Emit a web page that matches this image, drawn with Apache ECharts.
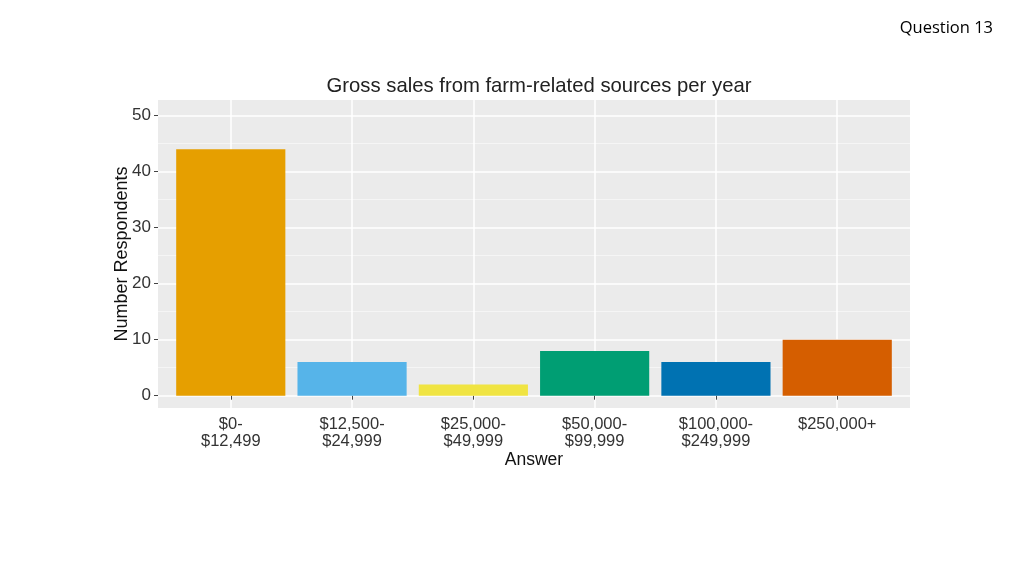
<!DOCTYPE html>
<html>
<head>
<meta charset="utf-8">
<script src="https://cdn.jsdelivr.net/npm/echarts@6/dist/echarts.min.js"></script>
<style>
  html, body { margin: 0; padding: 0; background: #fff; }
  #chart { width: 1024px; height: 576px; }
</style>
</head>
<body>
<div id="chart"></div>
<script>
  // bar categories and counts
  var categories = ['$0-\n$12,499', '$12,500-\n$24,999', '$25,000-\n$49,999', '$50,000-\n$99,999', '$100,000-\n$249,999', '$250,000+'];
  var positions = [1, 2, 3, 4, 5, 6];
  var counts = [44, 6, 2, 8, 6, 10];
  var barColors = ['#E69F00', '#56B4E9', '#F0E442', '#009E73', '#0072B2', '#D55E00'];
  var yMajor = [0, 10, 20, 30, 40, 50];
  var yMinor = [5, 15, 25, 35, 45];

  var chart = echarts.init(document.getElementById('chart'));

  var barData = positions.map(function (p, i) {
    return { value: [p, counts[i]], itemStyle: { color: barColors[i] } };
  });

  chart.setOption({
    animation: false,
    textStyle: { fontFamily: 'Liberation Sans, Arial, sans-serif' },
    graphic: [{
      type: 'text',
      right: 31,
      top: 20,
      style: { text: 'Question 13', font: '16.5px "Open Sans", sans-serif', fill: '#000' }
    }],
    title: {
      text: 'Gross sales from farm-related sources per year',
      left: 534,
      textAlign: 'center',
      top: 71,
      textStyle: { fontSize: 20.3, fontWeight: 'normal', color: '#222', fontFamily: 'Liberation Sans, Arial, sans-serif' }
    },
    grid: {
      left: 158, right: 114, top: 100, bottom: 168,
      show: true, backgroundColor: '#EBEBEB', borderWidth: 0
    },
    xAxis: {
      type: 'value',
      min: 0.4,
      max: 6.6,
      name: 'Answer',
      nameLocation: 'middle',
      nameGap: 43,
      nameMoveOverlap: false,
      nameTextStyle: { fontSize: 17.5, color: '#111' },
      axisLine: { show: false },
      axisTick: { customValues: positions, length: 4, lineStyle: { color: '#444' } },
      axisLabel: {
        customValues: positions,
        formatter: function (v) { return categories[Math.round(v) - 1]; },
        fontSize: 16.5, color: '#333', lineHeight: 17, margin: 8
      },
      splitLine: { lineStyle: { color: '#fff', width: 1.5 } }
    },
    yAxis: [{
      type: 'value',
      min: -2.2,
      max: 52.8,
      name: 'Number Respondents',
      nameLocation: 'middle',
      nameGap: 27,
      nameMoveOverlap: false,
      nameTextStyle: { fontSize: 18, color: '#111' },
      axisLine: { show: false },
      axisTick: { customValues: yMajor, length: 4, lineStyle: { color: '#444' } },
      axisLabel: { customValues: yMajor, fontSize: 17, color: '#333', margin: 7 },
      splitLine: { lineStyle: { color: '#fff', width: 1.5 } }
    }, {
      type: 'value',
      min: -2.2,
      max: 52.8,
      position: 'left',
      axisLine: { show: false },
      axisTick: { show: false, customValues: yMinor },
      axisLabel: { show: false, customValues: yMinor },
      splitLine: { lineStyle: { color: '#F7F7F7', width: 0.8 } }
    }],
    series: [{
      type: 'bar',
      data: barData,
      barWidth: '90%'
    }]
  });
</script>
</body>
</html>
